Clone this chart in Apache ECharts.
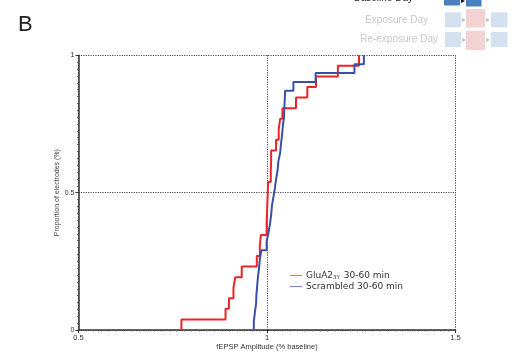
<!DOCTYPE html>
<html>
<head>
<meta charset="utf-8">
<script src="https://cdn.jsdelivr.net/npm/echarts@6/dist/echarts.min.js"></script>
<style>
  html, body { margin: 0; padding: 0; background: #fff; }
  #chart { width: 514px; height: 360px; }
</style>
</head>
<body>
<div id="chart"></div>
<script>
// Sorted fEPSP amplitudes (fraction of baseline), one per electrode
const gluA2Amplitudes = [
  0.773, 0.890, 0.899, 0.911, 0.916, 0.933, 0.973, 0.981, 0.984,
  0.999, 1.000, 1.001, 1.002, 1.003, 1.010, 1.011, 1.011,
  1.024, 1.031, 1.035, 1.041, 1.077, 1.107, 1.130, 1.188, 1.244
];
const scrambledAmplitudes = [
  0.965, 0.968, 0.971, 0.972, 0.974, 0.976, 0.979, 0.981, 0.985,
  0.999, 1.004, 1.008, 1.011, 1.013, 1.017, 1.021, 1.024, 1.028,
  1.030, 1.035, 1.037, 1.040, 1.042, 1.045, 1.046, 1.047, 1.048,
  1.070, 1.129, 1.232, 1.257
];
const seriesNames = ['GluA2 3Y 30-60 min', 'Scrambled 30-60 min'];
const xTicks = [0.5, 1, 1.5];
const yTicks = [0, 0.5, 1];

// Cumulative distribution: start at 0, step up by 1/n at each amplitude
function cumulative(values) {
  const n = values.length;
  const pts = [[values[0], 0]];
  values.forEach((v, i) => pts.push([v, (i + 1) / n]));
  return pts;
}

const chart = echarts.init(document.getElementById('chart'), null, { renderer: 'canvas' });

const labelFont = 'Liberation Sans, Arial, sans-serif';
const gridLine = { show: true, lineStyle: { type: [1.2, 1.2], color: '#444', width: 1 } };

// Protocol key in the upper right corner
function box(x, y, w, h, fill) {
  return { type: 'rect', shape: { x, y, width: w, height: h }, style: { fill }, silent: true };
}
function arrow(x, y, fill) {
  return { type: 'polygon', shape: { points: [[x, y - 2], [x + 4, y], [x, y + 2]] }, style: { fill }, silent: true };
}
function keyText(text, x, y, fill) {
  return {
    type: 'text', x, y, silent: true,
    style: { text, font: '10px ' + labelFont, fill, align: 'right', verticalAlign: 'middle' }
  };
}
const lightBlue = '#d3e1f0', pink = '#f2d2d2', keyGrey = '#c4c4c4';

chart.setOption({
  animation: false,
  grid: { left: 78.5, right: 58.5, top: 55.3, bottom: 30 },
  title: {
    text: 'B', left: 13, top: 9,
    textStyle: { fontFamily: labelFont, fontSize: 22, fontWeight: 'normal', color: '#222' }
  },
  legend: {
    orient: 'vertical', left: 285, top: 266, itemGap: 1.5,
    itemWidth: 12, itemHeight: 1.2, icon: 'rect',
    data: seriesNames.map((name, i) => ({
      name, itemStyle: { color: i === 0 ? '#f37a7c' : '#7d8cc8' }
    })),
    formatter: name => name === seriesNames[0] ? 'GluA2{sub|3Y} 30-60 min' : name,
    textStyle: {
      fontFamily: 'DejaVu Sans, Verdana, sans-serif', fontSize: 9, color: '#333', padding: [0, 0, 0, -1],
      rich: { sub: { fontFamily: 'DejaVu Sans, Verdana, sans-serif', fontSize: 5.5, color: '#333', verticalAlign: 'bottom', padding: [4, 1, 0, 0] } }
    }
  },
  xAxis: {
    type: 'value', min: xTicks[0], max: xTicks[xTicks.length - 1], interval: 0.5,
    name: 'fEPSP Amplitude (% baseline)', nameLocation: 'middle', nameGap: 17, nameMoveOverlap: false,
    nameTextStyle: { fontFamily: labelFont, fontSize: 7.5, color: '#333', verticalAlign: 'middle' },
    axisLine: { show: true, onZero: false, lineStyle: { color: '#333', width: 1.5 } },
    axisTick: { show: true, length: 3, lineStyle: { color: '#333' } },
    minorTick: { show: true, splitNumber: 25, length: 1.5, lineStyle: { color: '#666' } },
    axisLabel: { fontFamily: labelFont, fontSize: 7.5, color: '#333', margin: 4 },
    splitLine: gridLine
  },
  yAxis: {
    type: 'value', min: yTicks[0], max: yTicks[yTicks.length - 1], interval: 0.5,
    name: 'Proportion of electrodes (%)', nameLocation: 'middle', nameGap: 21, nameMoveOverlap: false,
    nameTextStyle: { fontFamily: labelFont, fontSize: 7, color: '#444', verticalAlign: 'middle' },
    axisLine: { show: true, onZero: false, lineStyle: { color: '#333', width: 1.5 } },
    axisTick: { show: true, length: 3, lineStyle: { color: '#333' } },
    minorTick: { show: true, splitNumber: 20, length: 1.5, lineStyle: { color: '#666' } },
    axisLabel: { fontFamily: labelFont, fontSize: 7, color: '#333', margin: 4 },
    splitLine: gridLine
  },
  series: [
    {
      name: seriesNames[0], type: 'line', step: 'end', showSymbol: false,
      data: cumulative(gluA2Amplitudes),
      lineStyle: { color: '#ee2328', width: 2 }, itemStyle: { color: '#ee2328' }, z: 3
    },
    {
      name: seriesNames[1], type: 'line', step: 'end', showSymbol: false,
      data: cumulative(scrambledAmplitudes),
      lineStyle: { color: '#3a4fa6', width: 2 }, itemStyle: { color: '#3a4fa6' }, z: 4
    }
  ],
  graphic: [
    keyText('Baseline Day', 413, -2.2, '#222'),
    box(444, -4, 16, 9.5, '#4a7fc0'),
    arrow(461, 1, '#111'),
    box(466, -4, 15.5, 10.5, '#4a7fc0'),

    keyText('Exposure Day', 428, 20, '#c8c8c8'),
    box(445, 12.3, 16, 15, lightBlue),
    arrow(462, 20, keyGrey),
    box(466, 9, 19, 18.5, pink),
    arrow(486, 20, keyGrey),
    box(491, 12.3, 16.5, 15, lightBlue),

    keyText('Re-exposure Day', 438, 39.5, '#c8c8c8'),
    box(445, 32, 16, 15, lightBlue),
    arrow(462, 40, keyGrey),
    box(466, 30.7, 19, 19.3, pink),
    arrow(486, 40, keyGrey),
    box(491, 32, 16.5, 15, lightBlue)
  ]
});
</script>
</body>
</html>
